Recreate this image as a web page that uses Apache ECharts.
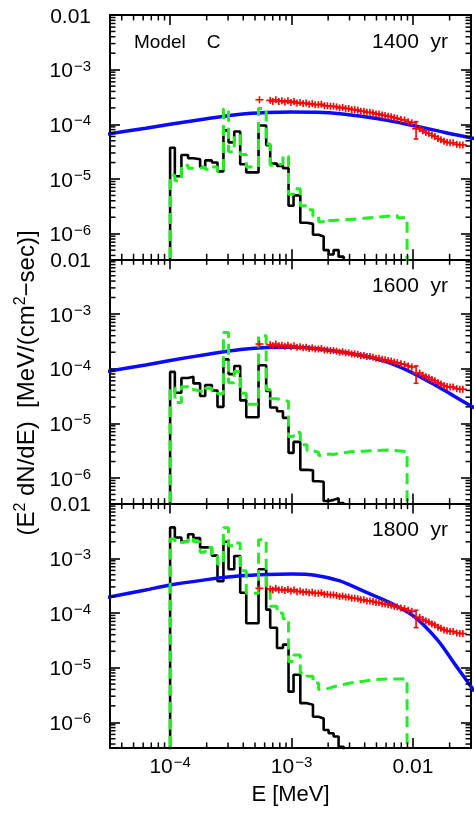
<!DOCTYPE html>
<html><head><meta charset="utf-8">
<script src="https://cdn.jsdelivr.net/npm/echarts@6/dist/echarts.min.js"></script>
<style>html,body{margin:0;padding:0;background:#fff}#c{width:474px;height:814px}</style>
</head><body><div id="c"></div>
<script>
// ---------- data ----------
const binEdges = [1.00e-4, 1.094e-4, 1.239e-4, 1.406e-4, 1.556e-4, 1.766e-4, 1.945e-4, 2.208e-4, 2.455e-4, 2.748e-4,
  3.027e-4, 3.373e-4, 3.776e-4, 4.236e-4, 5.346e-4, 6.180e-4, 6.668e-4, 7.586e-4, 8.492e-4, 9.441e-4,
  1.038e-3, 1.180e-3, 1.340e-3, 1.500e-3, 1.671e-3, 1.837e-3, 2.018e-3, 2.218e-3, 2.438e-3, 2.685e-3];
const greenTailEdges = [3.05e-3, 3.90e-3, 4.90e-3, 6.15e-3, 7.43e-3, 8.93e-3];

const p1Black = [3.72e-5, 1.12e-5, 2.75e-5, 2.40e-5, 2.29e-5, 1.66e-5, 2.19e-5, 2.00e-5, 1.38e-5, 7.76e-5,
  4.68e-5, 7.41e-5, 1.86e-5, 1.32e-5, 9.55e-5, 4.17e-5, 1.91e-5, 1.74e-5, 1.58e-5, 3.24e-6,
  5.01e-6, 1.58e-6, 1.51e-6, 9.55e-7, 8.91e-7, 5.01e-7, 4.17e-7, 5.01e-7, 3.80e-7];
const p2Black = [8.71e-5, 3.63e-5, 6.76e-5, 7.08e-5, 5.37e-5, 3.16e-5, 5.01e-5, 3.98e-5, 2.00e-5, 1.48e-4,
  7.94e-5, 1.12e-4, 2.63e-5, 1.29e-5, 1.15e-4, 3.89e-5, 1.95e-5, 1.66e-5, 1.26e-5, 2.88e-6,
  4.57e-6, 1.41e-6, 1.38e-6, 8.71e-7, 8.51e-7, 3.80e-7, 3.98e-7, 4.27e-7, 3.47e-7];
const p3Black = [3.67e-3, 2.40e-3, 2.00e-3, 2.75e-3, 2.34e-3, 1.58e-3, 1.58e-3, 1.12e-3, 3.80e-4, 2.00e-3,
  6.31e-4, 1.10e-3, 2.34e-4, 6.46e-5, 6.31e-4, 1.15e-4, 5.37e-5, 2.29e-5, 2.63e-5, 3.63e-6,
  7.41e-6, 2.24e-6, 2.09e-6, 1.26e-6, 1.17e-6, 7.24e-7, 6.31e-7, 5.50e-7, 3.55e-7];

const p1Green = [1.17e-5, 9.33e-6, 1.78e-5, 1.58e-5, 1.58e-5, 1.66e-5, 1.51e-5, 1.66e-5, 1.38e-5, 1.91e-4,
  3.16e-5, 6.31e-5, 2.82e-5, 1.66e-5, 1.95e-4, 4.37e-5, 1.78e-5, 1.91e-5, 2.63e-5, 5.25e-6,
  6.61e-6, 3.24e-6, 2.75e-6, 2.09e-6, 1.66e-6, 1.58e-6, 1.74e-6, 1.78e-6, 1.82e-6, 1.82e-6,
  1.91e-6, 2.00e-6, 2.09e-6, 2.14e-6, 1.95e-6];
const p2Green = [4.47e-5, 2.40e-5, 4.68e-5, 4.17e-5, 3.89e-5, 3.63e-5, 4.37e-5, 3.89e-5, 3.47e-5, 4.57e-4,
  5.50e-5, 8.91e-5, 3.55e-5, 2.24e-5, 3.98e-4, 4.17e-5, 2.82e-5, 2.69e-5, 2.51e-5, 5.75e-6,
  6.76e-6, 4.07e-6, 3.16e-6, 2.95e-6, 2.57e-6, 2.75e-6, 2.69e-6, 2.82e-6, 2.88e-6, 3.02e-6,
  3.09e-6, 3.16e-6, 3.24e-6, 3.16e-6, 3.02e-6];
const p3Green = [2.24e-3, 1.95e-3, 2.00e-3, 2.34e-3, 2.00e-3, 1.29e-3, 1.58e-3, 1.10e-3, 7.76e-4, 3.63e-3,
  1.70e-3, 1.91e-3, 5.89e-4, 2.29e-4, 2.19e-3, 3.09e-4, 1.32e-4, 1.00e-4, 7.94e-5, 1.29e-5,
  1.70e-5, 7.94e-6, 6.92e-6, 5.25e-6, 3.98e-6, 4.17e-6, 4.47e-6, 4.68e-6, 4.90e-6, 5.25e-6,
  5.62e-6, 6.03e-6, 6.17e-6, 6.17e-6, 6.17e-6];

const blueE  = [3.0e-5, 6.3e-5, 1.0e-4, 2.0e-4, 3.8e-4, 6.3e-4, 1.0e-3, 1.6e-3, 2.5e-3, 4.0e-3, 6.3e-3, 1.0e-2, 1.6e-2, 2.2e-2, 3.2e-2];
const p1Blue = [6.6e-5, 8.5e-5, 1.0e-4, 1.26e-4, 1.53e-4, 1.64e-4, 1.68e-4, 1.66e-4, 1.57e-4, 1.38e-4, 1.17e-4, 9.5e-5, 7.6e-5, 6.5e-5, 5.5e-5];
const p2Blue = [8.9e-5, 1.17e-4, 1.41e-4, 1.82e-4, 2.24e-4, 2.43e-4, 2.45e-4, 2.32e-4, 2.04e-4, 1.70e-4, 1.29e-4, 8.3e-5, 4.7e-5, 3.1e-5, 1.9e-5];
const p3Blue = [1.91e-4, 2.63e-4, 3.24e-4, 4.07e-4, 4.79e-4, 5.07e-4, 5.15e-4, 4.85e-4, 3.85e-4, 2.45e-4, 1.58e-4, 8.9e-5, 3.16e-5, 1.17e-5, 3.7e-6];

const redE = [5.44e-4, 6.67e-4, 7.00e-4, 7.41e-4, 7.85e-4, 8.32e-4, 8.81e-4, 9.33e-4, 9.89e-4, 1.047e-3,
  1.109e-3, 1.175e-3, 1.245e-3, 1.318e-3, 1.396e-3, 1.479e-3, 1.567e-3, 1.660e-3, 1.758e-3, 1.862e-3,
  1.972e-3, 2.089e-3, 2.213e-3, 2.344e-3, 2.483e-3, 2.630e-3, 2.786e-3, 2.951e-3, 3.126e-3, 3.311e-3,
  3.508e-3, 3.715e-3, 3.936e-3, 4.169e-3, 4.416e-3, 4.677e-3, 4.955e-3, 5.248e-3, 5.559e-3, 5.888e-3,
  6.237e-3, 6.607e-3, 6.998e-3, 7.413e-3, 7.943e-3, 8.511e-3, 9.120e-3, 9.772e-3, 1.059e-2, 1.135e-2,
  1.202e-2, 1.274e-2, 1.349e-2, 1.429e-2, 1.514e-2, 1.603e-2, 1.698e-2, 1.799e-2, 1.905e-2, 2.018e-2,
  2.138e-2, 2.291e-2, 2.427e-2, 2.570e-2];
const redV = [2.82e-4, 2.75e-4, 2.63e-4, 2.82e-4, 2.63e-4, 2.69e-4, 2.57e-4, 2.69e-4, 2.51e-4, 2.63e-4,
  2.45e-4, 2.51e-4, 2.40e-4, 2.45e-4, 2.34e-4, 2.40e-4, 2.29e-4, 2.29e-4, 2.34e-4, 2.19e-4,
  2.19e-4, 2.14e-4, 2.14e-4, 2.09e-4, 2.00e-4, 2.04e-4, 1.95e-4, 1.95e-4, 1.86e-4, 1.86e-4,
  1.82e-4, 1.74e-4, 1.74e-4, 1.66e-4, 1.66e-4, 1.62e-4, 1.55e-4, 1.55e-4, 1.48e-4, 1.45e-4,
  1.41e-4, 1.38e-4, 1.32e-4, 1.29e-4, 1.23e-4, 1.20e-4, 1.12e-4, 1.07e-4, 8.3e-5, 8.3e-5,
  7.6e-5, 7.1e-5, 6.8e-5, 6.3e-5, 6.0e-5, 5.5e-5, 5.25e-5, 4.9e-5, 4.7e-5, 4.6e-5,
  4.6e-5, 4.3e-5, 4.2e-5, 4.2e-5];
const redErr = [0.05, 0.04, 0.05, 0.04, 0.05, 0.04, 0.05, 0.04, 0.05, 0.04,
  0.05, 0.04, 0.05, 0.04, 0.05, 0.04, 0.05, 0.04, 0.05, 0.04,
  0.05, 0.04, 0.05, 0.04, 0.05, 0.04, 0.05, 0.04, 0.05, 0.05,
  0.05, 0.05, 0.05, 0.05, 0.05, 0.05, 0.05, 0.05, 0.05, 0.05,
  0.06, 0.06, 0.06, 0.06, 0.06, 0.07, 0.07, 0.07, 0.35, 0.08,
  0.08, 0.09, 0.09, 0.10, 0.10, 0.10, 0.11, 0.11, 0.12, 0.12,
  0.12, 0.13, 0.13, 0.14];

const ageLabels = ['1400  yr', '1600  yr', '1800  yr'];
const modelLabel = 'Model    C';
const xTitle = 'E [MeV]';

// ---------- layout / style ----------
const X_MIN = 3.2e-5, X_MAX = 3.0e-2, Y_MIN = 3.4e-7, Y_MAX = 1e-2, FLOOR = 1e-8;
const TOPS = [15, 259.3, 503.6], PH = 244.3, LEFT = 110, PW = 361;
const FONT = '"Liberation Sans", Arial, Helvetica, sans-serif';
const GREEN = '#22ee22', BLUE = '#0a0aff', RED = '#ff0000';

const panels = [
  {black: p1Black, green: p1Green, blue: p1Blue},
  {black: p2Black, green: p2Green, blue: p2Blue},
  {black: p3Black, green: p3Green, blue: p3Blue}
];

function histPoints(edges, vals) {
  const pts = [[edges[0], FLOOR]];
  for (let i = 0; i < vals.length; i++) {
    pts.push([edges[i], vals[i]]);
    pts.push([edges[i + 1], vals[i]]);
  }
  pts.push([edges[vals.length], FLOOR]);
  return pts;
}

function powLabel(v) {
  const lg = Math.log10(v);
  const e = Math.round(lg);
  if (Math.abs(lg - e) > 1e-6) return '';
  if (e === -2) return '{b|0.01}';
  return '{b|10}{s|\u2212' + (-e) + '}';
}
const RICH = {
  b: {fontFamily: FONT, fontSize: 21, color: '#000', lineHeight: 21, padding: [4, 0, 0, 0]},
  s: {fontFamily: FONT, fontSize: 15, color: '#000', lineHeight: 15, verticalAlign: 'top', padding: [0, 0, 0, 1]}
};

// minor ticks at 2..9 x 10^n
const minorData = [];
for (let n = -6; n <= -1; n++) {
  for (let m = 2; m <= 9; m++) {
    const v = Number((m * Math.pow(10, n)).toPrecision(3));
    if (v > X_MIN && v < X_MAX) minorData.push([v, 1e-4, 0]);
  }
}
for (let n = -8; n <= -3; n++) {
  for (let m = 2; m <= 9; m++) {
    const v = Number((m * Math.pow(10, n)).toPrecision(3));
    if (v > Y_MIN && v < Y_MAX) minorData.push([1e-4, v, 1]);
  }
}

function minorRender(params, api) {
  const cs = params.coordSys;
  const L = 5.5;
  const st = {stroke: '#000', lineWidth: 1.5};
  if (api.value(2) === 0) {
    const px = api.coord([api.value(0), 1e-4])[0];
    return {type: 'group', children: [
      {type: 'line', shape: {x1: px, y1: cs.y, x2: px, y2: cs.y + L}, style: st},
      {type: 'line', shape: {x1: px, y1: cs.y + cs.height, x2: px, y2: cs.y + cs.height - L}, style: st}
    ]};
  }
  const py = api.coord([1e-4, api.value(1)])[1];
  return {type: 'group', children: [
    {type: 'line', shape: {x1: cs.x, y1: py, x2: cs.x + L, y2: py}, style: st},
    {type: 'line', shape: {x1: cs.x + cs.width, y1: py, x2: cs.x + cs.width - L, y2: py}, style: st}
  ]};
}

function redRender(params, api) {
  const e = api.value(0);
  const c = api.coord([e, api.value(1)]);
  const yt = api.coord([e, api.value(3)])[1];
  const yb = api.coord([e, api.value(2)])[1];
  const st = {stroke: RED, lineWidth: 1.6};
  const H = 4;
  const top = Math.min(yt, c[1] - 3.5), bot = Math.max(yb, c[1] + 3.5);
  const ch = [
    {type: 'line', shape: {x1: c[0] - H, y1: c[1], x2: c[0] + H, y2: c[1]}, style: st},
    {type: 'line', shape: {x1: c[0], y1: top, x2: c[0], y2: bot}, style: st}
  ];
  if (bot - top > 7.5) {
    ch.push({type: 'line', shape: {x1: c[0] - 2.4, y1: top, x2: c[0] + 2.4, y2: top}, style: st});
    ch.push({type: 'line', shape: {x1: c[0] - 2.4, y1: bot, x2: c[0] + 2.4, y2: bot}, style: st});
  }
  return {type: 'group', children: ch};
}

const redData = redE.map((e, k) => [e, redV[k], redV[k] * (1 - redErr[k]), redV[k] * (1 + redErr[k])]);

const grid = [], xAxis = [], yAxis = [], series = [], graphic = [];
const axisLine = {show: true, onZero: false, lineStyle: {color: '#000', width: 2}};
const axisTick = {show: true, inside: true, length: 10, lineStyle: {color: '#000', width: 1.6}};

panels.forEach((p, i) => {
  grid.push({left: LEFT, top: TOPS[i], width: PW, height: PH});
  const showX = i === 2;
  xAxis.push({type: 'log', logBase: 10, gridIndex: i, position: 'bottom', min: X_MIN, max: X_MAX,
    axisLine, axisTick, splitLine: {show: false}, minorTick: {show: false},
    axisLabel: {show: showX, formatter: powLabel, rich: RICH, margin: 7},
    name: showX ? xTitle : '', nameLocation: 'middle', nameGap: 36,
    nameTextStyle: {fontFamily: FONT, fontSize: 22, color: '#000'}});
  xAxis.push({type: 'log', logBase: 10, gridIndex: i, position: 'top', min: X_MIN, max: X_MAX,
    axisLine, axisTick, splitLine: {show: false}, axisLabel: {show: false}});
  yAxis.push({type: 'log', logBase: 10, gridIndex: i, position: 'left', min: Y_MIN, max: Y_MAX,
    axisLine, axisTick, splitLine: {show: false}, minorTick: {show: false},
    axisLabel: {show: true, formatter: powLabel, rich: RICH, margin: 19}});
  yAxis.push({type: 'log', logBase: 10, gridIndex: i, position: 'right', min: Y_MIN, max: Y_MAX,
    axisLine, axisTick, splitLine: {show: false}, axisLabel: {show: false}});

  const xi = 2 * i, yi = 2 * i;
  series.push({type: 'line', xAxisIndex: xi, yAxisIndex: yi, data: histPoints(binEdges, p.black),
    symbol: 'none', silent: true, clip: true, z: 2, lineStyle: {color: '#000', width: 2.6}});
  series.push({type: 'line', xAxisIndex: xi, yAxisIndex: yi, data: blueE.map((e, k) => [e, p.blue[k]]),
    symbol: 'none', smooth: 0.3, silent: true, clip: true, z: 3, lineStyle: {color: BLUE, width: 3.5}});
  series.push({type: 'line', xAxisIndex: xi, yAxisIndex: yi, data: histPoints(binEdges.concat(greenTailEdges), p.green),
    symbol: 'none', silent: true, clip: true, z: 4, lineStyle: {color: GREEN, width: 3, type: [11, 6]}});
  series.push({type: 'custom', xAxisIndex: xi, yAxisIndex: yi, data: redData, renderItem: redRender,
    encode: {x: 0, y: 1}, silent: true, z: 5});
  series.push({type: 'custom', xAxisIndex: xi, yAxisIndex: yi, data: minorData, renderItem: minorRender,
    encode: {x: 0, y: 1}, silent: true, z: 6});

  graphic.push({type: 'text', x: 448, y: TOPS[i] + 27, z: 10,
    style: {text: ageLabels[i], fill: '#000', font: '21px ' + FONT,
      align: 'right', verticalAlign: 'middle', textAlign: 'right', textVerticalAlign: 'middle'}});
});

graphic.push({type: 'text', x: 134, y: 42.5, z: 10,
  style: {text: modelLabel, fill: '#000', font: '19px ' + FONT,
    align: 'left', verticalAlign: 'middle', textAlign: 'left', textVerticalAlign: 'middle'}});

graphic.push({type: 'text', x: 25, y: 383, rotation: Math.PI / 2, z: 10,
  style: {text: '{n|(E}{p|2}{n| dN/dE)  [MeV/(cm}{p|2}{n|\u2212sec)]}',
    align: 'center', verticalAlign: 'middle', textAlign: 'center', textVerticalAlign: 'middle',
    rich: {
      n: {fontFamily: FONT, fontSize: 24, color: '#000', lineHeight: 24, padding: [4, 0, 0, 0]},
      p: {fontFamily: FONT, fontSize: 16, color: '#000', lineHeight: 16, verticalAlign: 'top'}
    }}});

const chart = echarts.init(document.getElementById('c'), null, {renderer: 'canvas'});
chart.setOption({animation: false, backgroundColor: '#fff', grid, xAxis, yAxis, series, graphic});
</script>
</body></html>
